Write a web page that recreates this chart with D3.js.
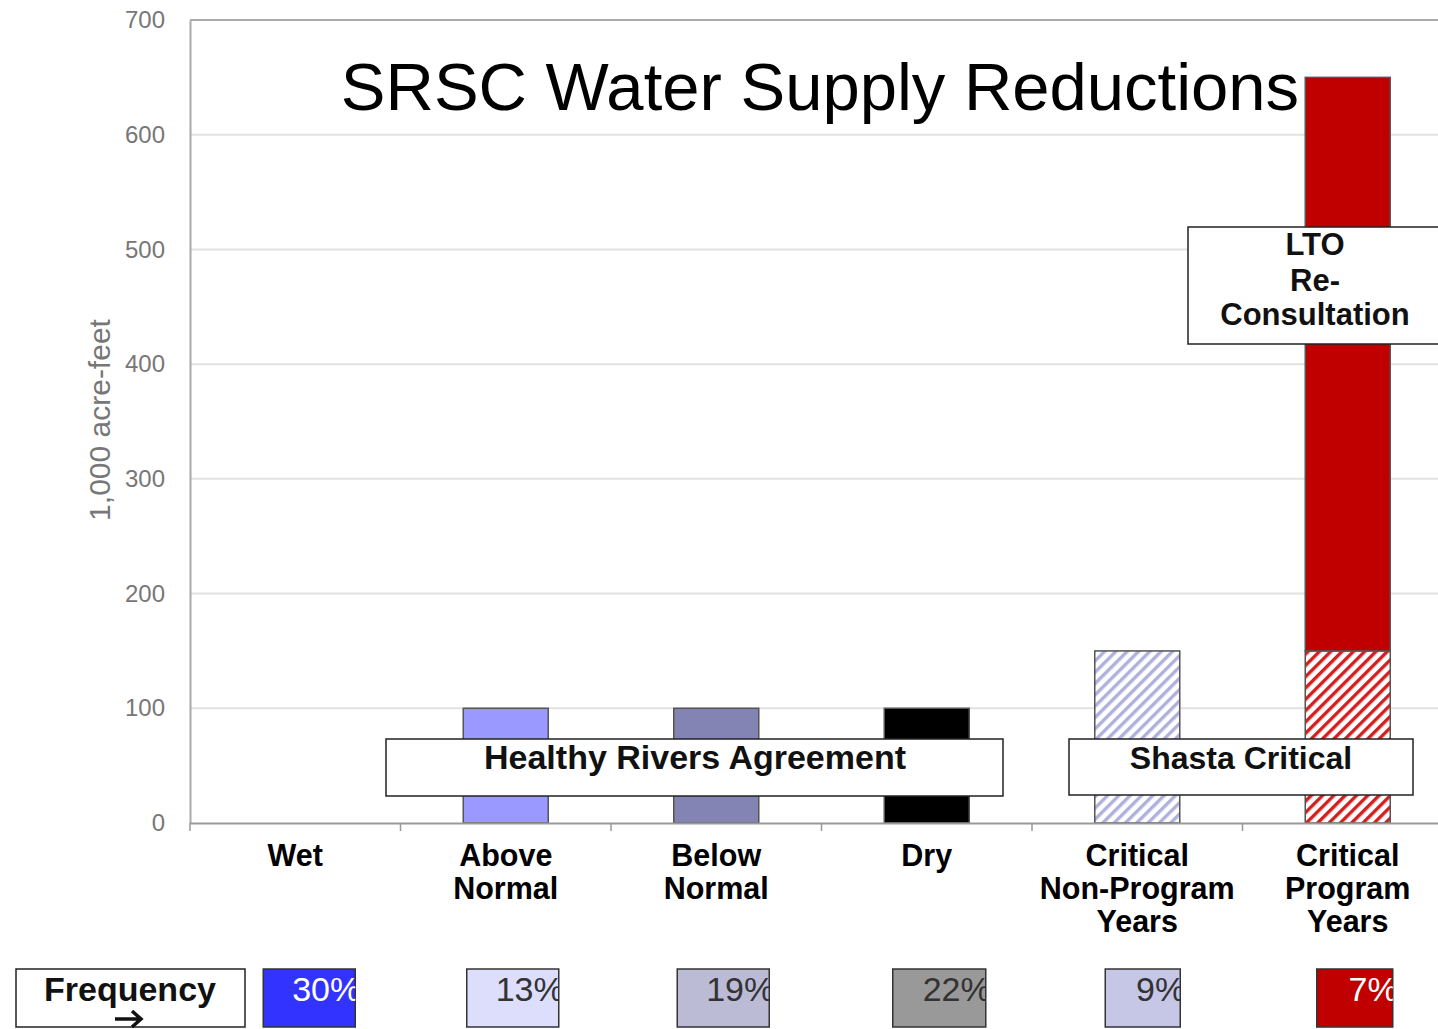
<!DOCTYPE html>
<html>
<head>
<meta charset="utf-8">
<script src="https://cdn.jsdelivr.net/npm/d3@7"></script>
<style>
  body { margin: 0; background: #fff; }
  svg { display: block; font-family: "Liberation Sans", Arial, sans-serif; }
</style>
</head>
<body>
<div id="chart"></div>
<script>
// data
var categories = ["Wet", "Above Normal", "Below Normal", "Dry", "Critical Non-Program Years", "Critical Program Years"];
var categoryLines = [["Wet"], ["Above", "Normal"], ["Below", "Normal"], ["Dry"], ["Critical", "Non-Program", "Years"], ["Critical", "Program", "Years"]];
var baseValues = [0, 100, 100, 100, 150, 150];
var ltoValues = [0, 0, 0, 0, 0, 500];
var frequency = ["30%", "13%", "19%", "22%", "9%", "7%"];
var yTicks = [0, 100, 200, 300, 400, 500, 600, 700];

// styles
var baseFills = ["none", "#9999ff", "#8484b4", "#000000", "url(#hatchBlue)", "url(#hatchRed)"];
var freqFills = ["#3333ff", "#ddddfc", "#bbbbd6", "#999999", "#c6c6e6", "#c00000"];
var freqText = ["#ffffff", "#333333", "#333333", "#333333", "#333333", "#ffffff"];
var freqOffset = [-32, -39, -39, -34, -32, -31];
var freqWidth = [92, 92, 92, 93, 75, 76];

var svgWidth = 1438;
var svgHeight = 1029;
var margin = { top: 20, left: 190 };
var plotRight = 1453;
var plotBottom = 823;

var svg = d3.select("#chart")
    .append("svg")
    .attr("width", svgWidth)
    .attr("height", svgHeight);

var defs = svg.append("defs");
function hatch(id, color) {
    var p = defs.append("pattern")
        .attr("id", id)
        .attr("patternUnits", "userSpaceOnUse")
        .attr("width", 8)
        .attr("height", 8)
        .attr("patternTransform", "rotate(45)");
    p.append("rect").attr("width", 8).attr("height", 8).attr("fill", "#fff");
    p.append("rect").attr("width", 3.4).attr("height", 8).attr("fill", color);
}
hatch("hatchBlue", "#b0b0dc");
hatch("hatchRed", "#d22020");

var xScale = d3.scaleBand()
    .domain(categories)
    .range([margin.left, plotRight])
    .paddingInner(0)
    .paddingOuter(0);

var yScale = d3.scaleLinear()
    .domain([0, 700])
    .range([plotBottom, margin.top]);

// gridlines
svg.append("g")
    .selectAll("line")
    .data(yTicks.slice(1, -1))
    .enter()
    .append("line")
    .attr("x1", margin.left)
    .attr("x2", plotRight)
    .attr("y1", d => yScale(d))
    .attr("y2", d => yScale(d))
    .attr("stroke", "#e2e2e2")
    .attr("stroke-width", 2);

// frame top
svg.append("line")
    .attr("x1", margin.left).attr("x2", plotRight)
    .attr("y1", yScale(700)).attr("y2", yScale(700))
    .attr("stroke", "#aaaaaa").attr("stroke-width", 2);

// y axis
var leftAxis = d3.axisLeft(yScale).tickValues(yTicks).tickSize(0).tickPadding(25);
var yAxis = svg.append("g")
    .attr("transform", `translate(${margin.left},0)`)
    .call(leftAxis);
yAxis.select(".domain").attr("stroke", "#aaaaaa").attr("stroke-width", 2);
yAxis.selectAll("text")
    .attr("fill", "#777777")
    .style("font-size", "24px")
    .style("font-family", "'Liberation Sans', Arial, sans-serif");

svg.append("text")
    .attr("transform", "translate(110,420) rotate(-90)")
    .attr("text-anchor", "middle")
    .attr("fill", "#777777")
    .style("font-size", "30px")
    .text("1,000 acre-feet");

// bars
var bw = 85;
svg.append("g")
    .selectAll("rect")
    .data(categories)
    .enter()
    .filter((d, i) => baseValues[i] > 0)
    .append("rect")
    .attr("x", d => xScale(d) + xScale.bandwidth() / 2 - bw / 2)
    .attr("y", d => yScale(baseValues[categories.indexOf(d)]))
    .attr("width", bw)
    .attr("height", d => yScale(0) - yScale(baseValues[categories.indexOf(d)]))
    .attr("fill", d => baseFills[categories.indexOf(d)])
    .attr("stroke", "#555555")
    .attr("stroke-width", 1.5);

svg.append("g")
    .selectAll("rect")
    .data(categories)
    .enter()
    .filter((d, i) => ltoValues[i] > 0)
    .append("rect")
    .attr("x", d => xScale(d) + xScale.bandwidth() / 2 - bw / 2)
    .attr("y", d => { var i = categories.indexOf(d); return yScale(baseValues[i] + ltoValues[i]); })
    .attr("width", bw)
    .attr("height", d => { var i = categories.indexOf(d); return yScale(baseValues[i]) - yScale(baseValues[i] + ltoValues[i]); })
    .attr("fill", "#c00000")
    .attr("stroke", "#555555")
    .attr("stroke-width", 1.5);

// x axis
var bottomAxis = d3.axisBottom(xScale).tickSize(0).tickFormat("");
var xAxis = svg.append("g")
    .attr("transform", `translate(0,${plotBottom})`)
    .call(bottomAxis);
xAxis.select(".domain").attr("stroke", "#999999").attr("stroke-width", 2);
svg.append("g")
    .selectAll("line")
    .data(categories)
    .enter()
    .append("line")
    .attr("x1", d => xScale(d))
    .attr("x2", d => xScale(d))
    .attr("y1", plotBottom)
    .attr("y2", plotBottom + 8)
    .attr("stroke", "#999999")
    .attr("stroke-width", 1.5);

// category labels
var catLabels = svg.append("g")
    .selectAll("text")
    .data(categories)
    .enter()
    .append("text")
    .attr("text-anchor", "middle")
    .attr("x", d => xScale(d) + xScale.bandwidth() / 2)
    .attr("y", 866)
    .attr("fill", "#000")
    .style("font-size", "30.5px")
    .style("font-weight", "bold");
catLabels.each(function(d, i) {
    var t = d3.select(this);
    categoryLines[i].forEach(function(line, j) {
        t.append("tspan")
            .attr("x", xScale(d) + xScale.bandwidth() / 2)
            .attr("dy", j === 0 ? 0 : 33)
            .text(line);
    });
});

// title
svg.append("text")
    .attr("x", 820)
    .attr("y", 110)
    .attr("text-anchor", "middle")
    .attr("fill", "#000")
    .style("font-size", "67px")
    .text("SRSC Water Supply Reductions");

// annotation boxes
function noteBox(x, y, w, h, lines, ys, cx, size) {
    svg.append("rect")
        .attr("x", x).attr("y", y).attr("width", w).attr("height", h)
        .attr("fill", "#fff").attr("stroke", "#222").attr("stroke-width", 1.5);
    lines.forEach(function(line, i) {
        svg.append("text")
            .attr("x", cx).attr("y", ys[i])
            .attr("text-anchor", "middle")
            .attr("fill", "#111")
            .style("font-size", size + "px")
            .style("font-weight", "bold")
            .text(line);
    });
}
noteBox(386, 739, 617, 57, ["Healthy Rivers Agreement"], [769], 695, 34);
noteBox(1069, 739, 344, 56, ["Shasta Critical"], [769], 1241, 32);
noteBox(1188, 227, 260, 117, ["LTO", "Re-", "Consultation"], [255, 291, 325], 1315, 31);

// frequency row
svg.append("rect")
    .attr("x", 16).attr("y", 969).attr("width", 229).attr("height", 58)
    .attr("fill", "#fff").attr("stroke", "#222").attr("stroke-width", 1.5);
svg.append("text")
    .attr("x", 130).attr("y", 1001)
    .attr("text-anchor", "middle")
    .attr("fill", "#111")
    .style("font-size", "34px")
    .style("font-weight", "bold")
    .text("Frequency");
svg.append("path")
    .attr("d", "M115,1019 H140 M132,1011 L141,1019 L132,1027")
    .attr("fill", "none")
    .attr("stroke", "#111")
    .attr("stroke-width", 3.5);

var freqGroup = svg.append("g");
categories.forEach(function(c, i) {
    var cx = xScale(c) + xScale.bandwidth() / 2;
    var x0 = cx + freqOffset[i];
    defs.append("clipPath")
        .attr("id", "fclip" + i)
        .append("rect")
        .attr("x", x0).attr("y", 969).attr("width", freqWidth[i]).attr("height", 58);
    freqGroup.append("rect")
        .attr("x", x0).attr("y", 969).attr("width", freqWidth[i]).attr("height", 58)
        .attr("fill", freqFills[i]).attr("stroke", "#333").attr("stroke-width", 1.5);
    freqGroup.append("text")
        .attr("clip-path", `url(#fclip${i})`)
        .attr("x", x0 + freqWidth[i] + 5)
        .attr("y", 1001)
        .attr("text-anchor", "end")
        .attr("fill", freqText[i])
        .style("font-size", "34px")
        .text(frequency[i]);
});
</script>
</body>
</html>
